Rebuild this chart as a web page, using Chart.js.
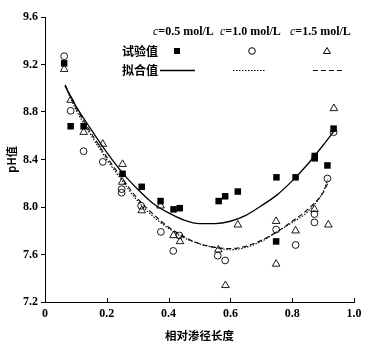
<!DOCTYPE html>
<html>
<head>
<meta charset="utf-8">
<script src="https://cdn.jsdelivr.net/npm/chart.js@4.4.1/dist/chart.umd.min.js"></script>
<style>
  html, body { margin: 0; padding: 0; background: #fff; }
  #wrap { width: 368px; height: 345px; position: relative; }
</style>
</head>
<body>
<div id="wrap"><canvas id="myChart"></canvas></div>
<script>
// legend labels
const concLabels = ['0.5 mol/L', '1.0 mol/L', '1.5 mol/L'];
const rowLabels = ['试验值', '拟合值'];
const xTickVals = [0, 0.2, 0.4, 0.6, 0.8, 1.0];
const yTickVals = [7.2, 7.6, 8.0, 8.4, 8.8, 9.2, 9.6];

// 试验值 c=0.5
const x05 = [0.062, 0.083, 0.125, 0.251, 0.313, 0.374, 0.416, 0.436, 0.562, 0.583, 0.624, 0.749, 0.748, 0.811, 0.873, 0.873, 0.914, 0.934];
const y05 = [9.21, 8.68, 8.68, 8.28, 8.17, 8.05, 7.98, 7.99, 8.05, 8.09, 8.13, 8.25, 7.71, 8.25, 8.41, 8.43, 8.35, 8.66];
// 试验值 c=1.0
const x10 = [0.062, 0.083, 0.125, 0.187, 0.248, 0.248, 0.311, 0.375, 0.415, 0.435, 0.559, 0.583, 0.748, 0.811, 0.872, 0.872, 0.914, 0.934];
const y10 = [9.27, 8.81, 8.47, 8.38, 8.15, 8.12, 8.01, 7.79, 7.63, 7.76, 7.59, 7.55, 7.81, 7.68, 7.87, 7.94, 8.24, 8.63];
// 试验值 c=1.5
const x15 = [0.062, 0.083, 0.125, 0.187, 0.251, 0.250, 0.313, 0.374, 0.416, 0.437, 0.561, 0.584, 0.624, 0.748, 0.748, 0.811, 0.872, 0.917, 0.935];
const y15 = [9.16, 8.90, 8.63, 8.53, 8.36, 8.21, 7.97, 8.01, 7.76, 7.71, 7.64, 7.34, 7.85, 7.88, 7.52, 7.80, 7.98, 7.85, 8.83];

// 拟合值
const fitX05 = [0.065, 0.1, 0.15, 0.2, 0.25, 0.3, 0.35, 0.4, 0.45, 0.5, 0.55, 0.6, 0.65, 0.7, 0.75, 0.8, 0.85, 0.9, 0.935];
const fitY05 = [9.02, 8.85, 8.65, 8.46, 8.29, 8.15, 8.03, 7.95, 7.89, 7.86, 7.86, 7.88, 7.93, 8.01, 8.10, 8.22, 8.36, 8.52, 8.64];
const fitX10 = [0.065, 0.1, 0.15, 0.2, 0.25, 0.3, 0.35, 0.4, 0.45, 0.5, 0.55, 0.6, 0.65, 0.7, 0.75, 0.8, 0.85, 0.9, 0.915];
const fitY10 = [9.02, 8.82, 8.60, 8.40, 8.22, 8.05, 7.92, 7.82, 7.74, 7.69, 7.66, 7.64, 7.66, 7.71, 7.79, 7.87, 7.96, 8.13, 8.23];
const fitX15 = [0.065, 0.1, 0.15, 0.2, 0.25, 0.3, 0.35, 0.4, 0.45, 0.5, 0.55, 0.6, 0.65, 0.7, 0.75, 0.8, 0.85, 0.9, 0.915];
const fitY15 = [9.03, 8.84, 8.62, 8.42, 8.24, 8.07, 7.94, 7.83, 7.75, 7.69, 7.66, 7.65, 7.67, 7.72, 7.79, 7.88, 7.98, 8.12, 8.20];

const serif = "'Liberation Serif', 'Times New Roman', serif";
const cjk = "'Noto Sans CJK SC', sans-serif";

const pts = (xs, ys) => xs.map((x, i) => ({ x: x, y: ys[i] }));

// x 轴刻度朝内 + 图例
const extras = {
    id: 'extras',
    afterDraw(chart) {
        const ctx = chart.ctx;
        const xs = chart.scales.x;
        const bottom = chart.chartArea.bottom;
        ctx.save();
        ctx.strokeStyle = '#000';
        ctx.lineWidth = 1;
        xTickVals.forEach(v => {
            const px = Math.round(xs.getPixelForValue(v)) + 0.5;
            ctx.beginPath();
            ctx.moveTo(px, bottom);
            ctx.lineTo(px, bottom - 4);
            ctx.stroke();
        });

        // header row
        ctx.fillStyle = '#000';
        ctx.textBaseline = 'middle';
        const colX = [153, 220, 290];
        colX.forEach((cx, i) => {
            ctx.font = 'italic 12px ' + serif;
            ctx.fillText('c', cx, 32);
            const w = ctx.measureText('c').width;
            ctx.font = 'bold 12px ' + serif;
            ctx.fillText('=' + concLabels[i], cx + w, 32);
        });
        ctx.font = 'bold 12px ' + cjk;
        ctx.fillText(rowLabels[0], 122, 51);
        ctx.fillText(rowLabels[1], 122, 70);

        // markers
        ctx.lineWidth = 1;
        ctx.fillRect(174, 48, 6, 6);
        ctx.beginPath();
        ctx.arc(252, 51, 3.3, 0, Math.PI * 2);
        ctx.stroke();
        ctx.beginPath();
        ctx.moveTo(327, 47.5);
        ctx.lineTo(330.5, 53.5);
        ctx.lineTo(323.5, 53.5);
        ctx.closePath();
        ctx.stroke();

        // line samples
        ctx.lineWidth = 1.3;
        ctx.beginPath();
        ctx.moveTo(160, 70.5); ctx.lineTo(195, 70.5);
        ctx.stroke();
        ctx.lineWidth = 1;
        ctx.setLineDash([1.5, 1.5]);
        ctx.beginPath();
        ctx.moveTo(233, 70.5); ctx.lineTo(265, 70.5);
        ctx.stroke();
        ctx.setLineDash([5, 3]);
        ctx.lineWidth = 1.2;
        ctx.beginPath();
        ctx.moveTo(313, 70.5); ctx.lineTo(343, 70.5);
        ctx.stroke();
        ctx.restore();
    }
};

const myChart = new Chart(document.getElementById('myChart').getContext('2d'), {
    type: 'scatter',
    data: {
        datasets: [
            {
                data: pts(x05, y05), pointStyle: 'rect', pointRadius: 4.6,
                backgroundColor: '#000', borderColor: '#000', borderWidth: 0, order: 0
            },
            {
                data: pts(x10, y10), pointStyle: 'circle', pointRadius: 3.4,
                backgroundColor: 'rgba(255,255,255,0)', borderColor: '#000', borderWidth: 0.9, order: 0
            },
            {
                data: pts(x15, y15), pointStyle: 'triangle', pointRadius: 4.4,
                backgroundColor: 'rgba(255,255,255,0)', borderColor: '#000', borderWidth: 0.9, order: 0
            },
            {
                data: pts(fitX05, fitY05), showLine: true, pointRadius: 0,
                borderColor: '#000', borderWidth: 1.3, cubicInterpolationMode: 'monotone', order: 1
            },
            {
                data: pts(fitX10, fitY10), showLine: true, pointRadius: 0,
                borderColor: '#000', borderWidth: 1.1, borderDash: [1.5, 1.5], cubicInterpolationMode: 'monotone', order: 1
            },
            {
                data: pts(fitX15, fitY15), showLine: true, pointRadius: 0,
                borderColor: '#000', borderWidth: 1.1, borderDash: [5, 3], cubicInterpolationMode: 'monotone', order: 1
            }
        ]
    },
    options: {
        responsive: true,
        maintainAspectRatio: false,
        animation: false,
        layout: { padding: { top: 17, right: 14, left: 0, bottom: 0 } },
        plugins: { legend: { display: false }, tooltip: { enabled: false } },
        scales: {
            x: {
                type: 'linear', min: 0, max: 1.0,
                afterFit: s => { s.height = 43; },
                afterBuildTicks: s => { s.ticks = xTickVals.map(v => ({ value: v })); },
                grid: { display: false, drawTicks: false },
                border: { display: true, color: '#000', width: 1 },
                ticks: {
                    padding: 5, color: '#000',
                    font: { family: serif, size: 12, weight: 'bold' },
                    callback: v => (v === 0 ? '0' : v.toFixed(1))
                },
                title: {
                    display: true, text: '相对渗径长度', color: '#000',
                    font: { family: cjk, size: 11.5, weight: 'bold' },
                    padding: { top: 0, bottom: 2 }
                }
            },
            y: {
                type: 'linear', min: 7.2, max: 9.6,
                afterFit: s => { s.width = 45; },
                afterBuildTicks: s => { s.ticks = yTickVals.map(v => ({ value: v })); },
                grid: { drawOnChartArea: false, drawTicks: true, tickLength: 4, color: '#000' },
                border: { display: true, color: '#000', width: 1 },
                ticks: {
                    padding: 3, color: '#000',
                    font: { family: serif, size: 12, weight: 'bold' },
                    callback: v => v.toFixed(1)
                },
                title: {
                    display: true, text: 'pH值', color: '#000',
                    font: { family: cjk, size: 11, weight: 'bold' },
                    padding: { top: 5, bottom: 0 }
                }
            }
        }
    },
    plugins: [extras]
});
</script>
</body>
</html>
